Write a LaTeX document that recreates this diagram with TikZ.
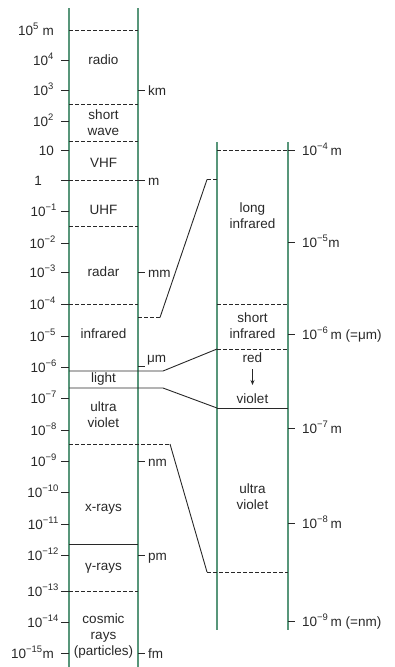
\documentclass[tikz,border=0pt]{standalone}
\usepackage{fontspec}
\setmainfont{Liberation Sans}
\usetikzlibrary{arrows.meta}
\definecolor{scalegreen}{RGB}{88,150,122}
\definecolor{ink}{RGB}{40,40,40}
\newcommand{\tenp}[1]{10\textsuperscript{#1}}

\begin{document}
\begin{tikzpicture}[x=1pt, y=-1pt,
		every node/.style={text=ink, font=\fontsize{13.5}{16.3}\selectfont},
		scale line/.style={draw=scalegreen, line width=2.6pt},
		band/.style={draw=ink, line width=0.9pt, dash pattern=on 3.5pt off 2.5pt},
		cut/.style={draw=ink, line width=0.9pt},
		band label/.style={align=center, inner sep=0pt},
		exp label/.style={anchor=base east, inner sep=0pt},
		unit label/.style={anchor=base west, inner sep=0pt}]

	\useasboundingbox (0,0) rectangle (394,667);

	\draw[scale line] (69,8) -- (69,667);
	\draw[scale line] (138,8) -- (138,667);
	\draw[scale line] (217,142) -- (217,630);
	\draw[scale line] (288,142) -- (288,630);

	\node[exp label] (exp30) at (54,35) {\tenp{5} m};
	\foreach \lab/\y/\x in {{\tenp{4}}/60/54, {\tenp{3}}/90/54, {\tenp{2}}/121/54,
			10/150/54, 1/180/42, {\tenp{−1}}/211/57, {\tenp{−2}}/243/56,
			{\tenp{−3}}/272/56, {\tenp{−4}}/304/56, {\tenp{−5}}/336/56,
			{\tenp{−6}}/367/57, {\tenp{−7}}/398/57, {\tenp{−8}}/430/57,
			{\tenp{−9}}/461/57, {\tenp{−10}}/492/59, {\tenp{−11}}/524/59,
			{\tenp{−12}}/555/59, {\tenp{−13}}/591/59, {\tenp{−14}}/622/59,
			{\tenp{−15}m}/653/54} {
		\draw[cut] (61,\y) -- (69,\y);
		\node[exp label] (exp\y) at (\x,\y+5) {\lab};
	}

	\foreach \lab/\y in {km/90, m/180, mm/272, nm/461, pm/555, fm/653} {
		\draw[cut] (138,\y) -- (145,\y);
		\node[unit label] (unit\lab) at (148,\y+5) {\lab};
	}
	\draw[cut] (138,366) -- (145,366);
	\node[unit label] (unitmu) at (147,362) {μm};

	\foreach \y in {30,104,141,180,226,304,591}
		\draw[band] (69,\y) -- (138,\y);
	\draw[cut] (69,544) -- (138,544);

	\node[band label] (radio) at (103.5,60) {radio};
	\node[band label] (shortwave) at (103.5,123) {short\\wave};
	\node[band label] (vhf) at (103.5,163) {VHF};
	\node[band label] (uhf) at (103.5,210) {UHF};
	\node[band label] (radar) at (103.5,272) {radar};
	\node[band label] (infrared) at (103.5,334) {infrared};
	\node[band label] (light) at (103.5,379) {light};
	\node[band label] (uvleft) at (103.5,415) {ultra\\violet};
	\node[band label] (xrays) at (103.5,509) {x-rays};
	\node[band label] (gamma) at (103.5,568) {γ-rays};
	\node[band label] (cosmic) at (103.5,636) {cosmic\\rays\\(particles)};

	\foreach \lab/\y [count=\i] in {{\tenp{−4}\,m}/150, {\tenp{−5}m}/242,
			{\tenp{−6}\,m (=μm)}/334, {\tenp{−7}\,m}/428, {\tenp{−8}\,m}/523,
			{\tenp{−9}\,m (=nm)}/621} {
		\draw[cut] (288,\y) -- (295,\y);
		\node[unit label] (rexp\i) at (302,\y+5) {\lab};
	}

	\foreach \y in {150,304,349}
		\draw[band] (217,\y) -- (288,\y);
	\draw[cut] (217,408) -- (288,408);

	\node[band label] (longir) at (252.5,216) {long\\infrared};
	\node[band label] (shortir) at (252.5,326) {short\\infrared};
	\node[band label] (red) at (252.5,358) {red};
	\node[band label] (violet) at (252.5,399) {violet};
	\node[band label] (uvright) at (252.5,497) {ultra\\violet};
	\draw[cut, -{Stealth[length=5pt, width=4pt]}] (252.5,369) -- (252.5,385);

	\coordinate (irA) at (138,317.5);
	\coordinate (irB) at (160,317.5);
	\coordinate (irC) at (207,179.5);
	\coordinate (irD) at (217,179.5);
	\draw[band] (irA) -- (irB);
	\draw[cut] (irB) -- (irC);
	\draw[band] (irC) -- (irD);

	\coordinate (redA) at (69,371);
	\coordinate (redB) at (163,371);
	\coordinate (redC) at (217,349);
	\draw[cut] (redA) -- (redB) -- (redC);

	\coordinate (vioA) at (69,388);
	\coordinate (vioB) at (163,388);
	\coordinate (vioC) at (217,408);
	\draw[cut] (vioA) -- (vioB) -- (vioC);

	\coordinate (uvA) at (69,444);
	\coordinate (uvB) at (170,444);
	\coordinate (uvC) at (207,572);
	\coordinate (uvD) at (288,572);
	\draw[band] (uvA) -- (uvB);
	\draw[cut] (uvB) -- (uvC);
	\draw[band] (uvC) -- (uvD);
\end{tikzpicture}
\end{document}
